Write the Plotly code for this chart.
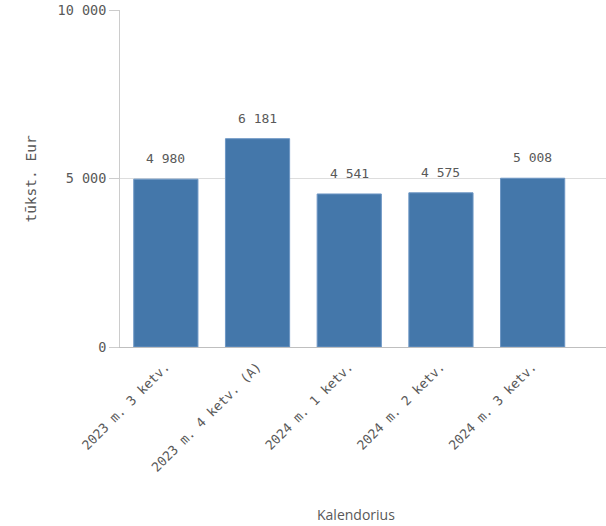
import plotly.graph_objects as go

categories = ["2023 m. 3 ketv.", "2023 m. 4 ketv. (A)", "2024 m. 1 ketv.", "2024 m. 2 ketv.", "2024 m. 3 ketv."]
values = [4980, 6181, 4541, 4575, 5008]
y_ticks = [0, 5000, 10000]
y_tick_labels = ["0", "5 000", "10 000"]

def fmt(v):
    return f"{v:,}".replace(",", " ")

mono = "DejaVu Sans Mono"
grey = "#595959"

fig = go.Figure(go.Bar(
    x=list(range(len(categories))),
    y=values,
    width=0.7,
    marker=dict(color="#4477aa", line=dict(color="#6d96c4", width=1)),
    hoverinfo="skip",
))

for i, v in enumerate(values):
    fig.add_annotation(
        x=i, y=v, xref="x", yref="y", text=fmt(v), showarrow=False,
        yanchor="bottom", yshift=11,
        font=dict(family=mono, size=13, color=grey),
    )

fig.add_annotation(
    x=0.485, y=-0.497, xref="paper", yref="paper", text="Kalendorius", showarrow=False,
    xanchor="center", yanchor="middle",
    font=dict(family="Open Sans", size=14, color=grey),
)
fig.add_annotation(
    x=-0.185, y=0.5, xref="paper", yref="paper", text="tūkst. Eur", showarrow=False,
    xanchor="center", yanchor="middle", textangle=-90,
    font=dict(family=mono, size=14.5, color=grey),
)

fig.update_layout(
    width=606, height=526,
    margin=dict(l=120, r=0, t=10, b=179),
    plot_bgcolor="white", paper_bgcolor="white",
    showlegend=False,
)
fig.update_xaxes(
    tickmode="array", tickvals=list(range(len(categories))), ticktext=categories,
    tickangle=-45, range=[-0.5, 4.8],
    tickfont=dict(family=mono, size=13, color=grey),
    showline=True, linecolor="#bfbfbf", linewidth=1,
    ticks="outside", ticklen=6, tickcolor="rgba(0,0,0,0)", showgrid=False,
    automargin=False,
)
fig.update_yaxes(
    range=[0, 10000], tickmode="array", tickvals=y_ticks, ticktext=y_tick_labels,
    tickfont=dict(family=mono, size=13.5, color=grey),
    showline=True, linecolor="#cccccc", linewidth=1,
    ticks="outside", ticklen=10, tickcolor="#cccccc",
    showgrid=True, gridcolor="#dddddd", gridwidth=1,
    zeroline=False, automargin=False,
)

fig.write_html(
    "out.html",
    config={"displayModeBar": False},
    post_script="document.body.style.margin='0';document.body.style.overflow='hidden';",
)
